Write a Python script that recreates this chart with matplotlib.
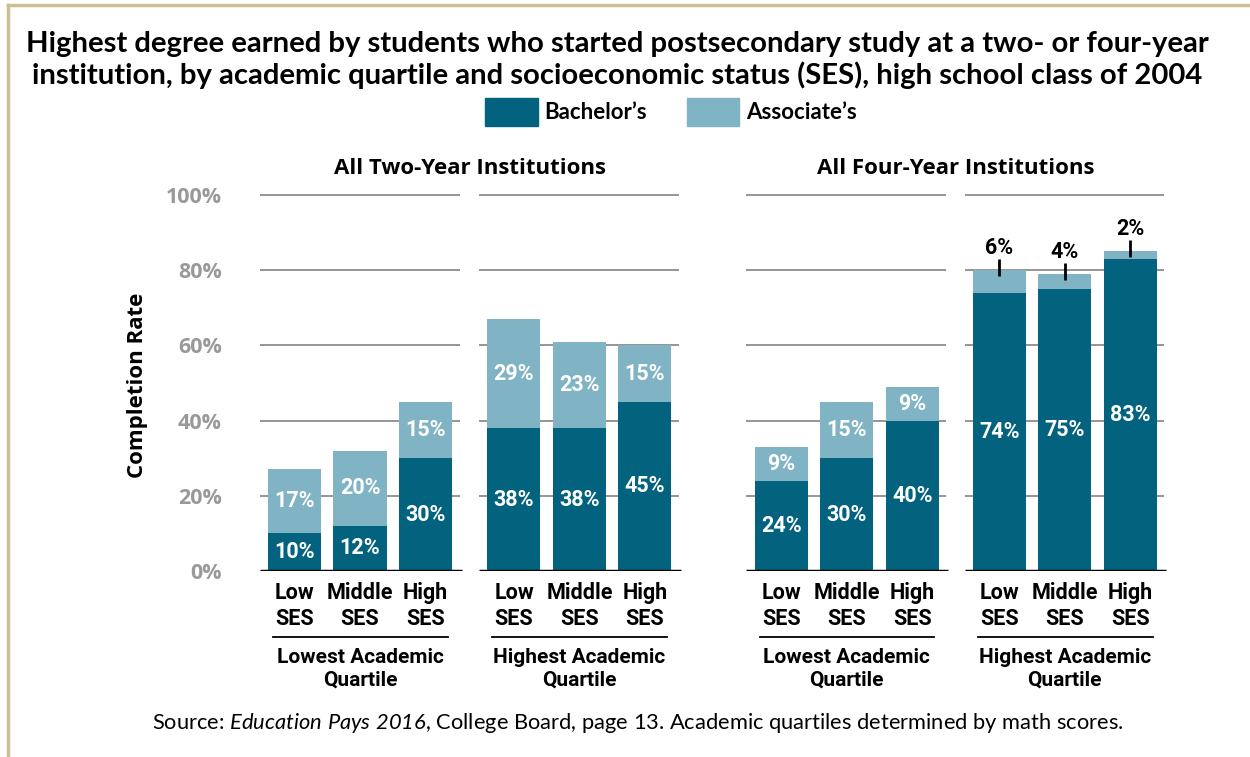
import numpy as np
import matplotlib.pyplot as plt
import matplotlib.transforms as mtransforms
from matplotlib.lines import Line2D
from matplotlib.patches import Patch

# digits inside \mathit fall back to the "rm" font, so point both at italic Lato
plt.rcParams['mathtext.fontset'] = 'custom'
plt.rcParams['mathtext.rm'] = 'Lato:italic'
plt.rcParams['mathtext.it'] = 'Lato:italic'

# ---------------------------------------------------------------
# data (percent)
# ---------------------------------------------------------------
panel_titles = ["All Two-Year Institutions", "All Four-Year Institutions"]
quartile_labels = ["Lowest Academic\nQuartile", "Highest Academic\nQuartile",
                   "Lowest Academic\nQuartile", "Highest Academic\nQuartile"]
ses_labels = ["Low\nSES", "Middle\nSES", "High\nSES"]
bachelors = [[10, 12, 30], [38, 38, 45], [24, 30, 40], [74, 75, 83]]
associates = [[17, 20, 15], [29, 23, 15], [9, 15, 9], [6, 4, 2]]
y_ticks = [0, 20, 40, 60, 80, 100]

DARK = "#03637f"
LIGHT = "#80b3c4"
GRID = "#8c8c8c"
W, H = 1250, 757

group_x0 = [0, 3.35, 7.43, 10.76]
bar_w = 0.81

fig = plt.figure(figsize=(W / 100, H / 100), dpi=100)
ax = fig.add_axes([230 / W, 186 / H, 940 / W, 376 / H])
ax.set_xlim(-0.985, 13.366)
ax.set_ylim(0, 100)
for s in ax.spines.values():
    s.set_visible(False)

lbl_font = dict(family="Roboto", weight="bold", size=15.5)
blend = mtransforms.blended_transform_factory(ax.transData, fig.transFigure)

xt, xl = [], []
for g in range(4):
    x = group_x0[g] + np.arange(3)
    b = np.array(bachelors[g])
    a = np.array(associates[g])
    ax.hlines(y_ticks[1:], x[0] - 0.53, x[2] + 0.52, color=GRID, lw=1.3, zorder=1, clip_on=False)
    ax.hlines(0, x[0] - 0.53, x[2] + 0.55, color="black", lw=2.5, zorder=3)
    ax.bar(x, b, bar_w, color=DARK, zorder=2)
    ax.bar(x, a, bar_w, bottom=b, color=LIGHT, zorder=2)
    for xi, bi, ai in zip(x, b, a):
        ax.text(xi, bi / 2, f"{bi}%", color="white", ha="center", va="center", **lbl_font)
        if ai >= 8:
            ax.text(xi, bi + ai / 2, f"{ai}%", color="white", ha="center", va="center", **lbl_font)
        else:
            top = bi + ai
            ax.vlines(xi, top - 1.5, top + 3, color="black", lw=2, zorder=4)
            ax.text(xi, top + 3.0, f"{ai}%", color="black", ha="center", va="bottom", **lbl_font)
    xt += list(x)
    xl += ses_labels
    # underline + quartile label
    fig.add_artist(Line2D([x[0] - 0.33, x[2] + 0.34], [1 - 637 / H] * 2, transform=blend,
                          color="black", lw=1.3))
    fig.text(x[1], 1 - 669 / H, quartile_labels[g], transform=blend, ha="center", va="center",
             linespacing=1.25, **dict(lbl_font, size=15))

ax.set_xticks(xt, xl)
ax.tick_params(axis="x", length=0, pad=8)
for t in ax.get_xticklabels():
    t.set_fontfamily("Roboto")
    t.set_fontweight("bold")
    t.set_fontsize(15.5)
    t.set_linespacing(1.2)

ax.set_yticks(y_ticks, [f"{v}%" for v in y_ticks])
ax.tick_params(axis="y", length=0, pad=6)
for t in ax.get_yticklabels():
    t.set_fontfamily("Open Sans")
    t.set_fontweight("bold")
    t.set_fontsize(15.5)
    t.set_color("#999999")

# panel titles
for i, title in enumerate(panel_titles):
    xc = (group_x0[2 * i] + group_x0[2 * i + 1] + 2) / 2
    fig.text(xc, 1 - 168 / H, title, transform=blend, ha="center", va="center",
             family="Open Sans", weight="bold", size=16)

fig.text(138 / W, 1 - 385 / H, "Completion Rate", rotation=90, ha="center", va="center",
         family="Open Sans", weight="bold", size=16)

fig.text(617 / W, 1 - 60 / H,
         "Highest degree earned by students who started postsecondary study at a two- or four-year\n"
         "institution, by academic quartile and socioeconomic status (SES), high school class of 2004",
         ha="center", va="center", family="Lato", weight="bold", size=21.1, linespacing=1.22)

fig.legend(handles=[Patch(color=DARK, label="Bachelor\u2019s"), Patch(color=LIGHT, label="Associate\u2019s")],
           loc="center", bbox_to_anchor=(671 / W, 1 - 112 / H), ncol=2, frameon=False,
           handlelength=2.35, handleheight=1.5, handletextpad=0.3, columnspacing=1.8,
           prop=dict(family="Lato", weight="bold", size=16))

fig.text(638 / W, 1 - 723 / H,
         r"Source: $\mathit{Education\ Pays\ 2016}$, College Board, page 13. Academic quartiles determined by math scores.",
         ha="center", va="center", family="Lato", size=15.75)

# slide border
border = "#cdbf94"
fig.add_artist(Line2D([8 / W, 8 / W], [0, 1 - 5 / H], transform=fig.transFigure, color=border, lw=2.5))
fig.add_artist(Line2D([8 / W, 1], [1 - 5 / H, 1 - 5 / H], transform=fig.transFigure, color=border, lw=2.5))

fig.savefig("out.png", dpi=100, facecolor="white")
